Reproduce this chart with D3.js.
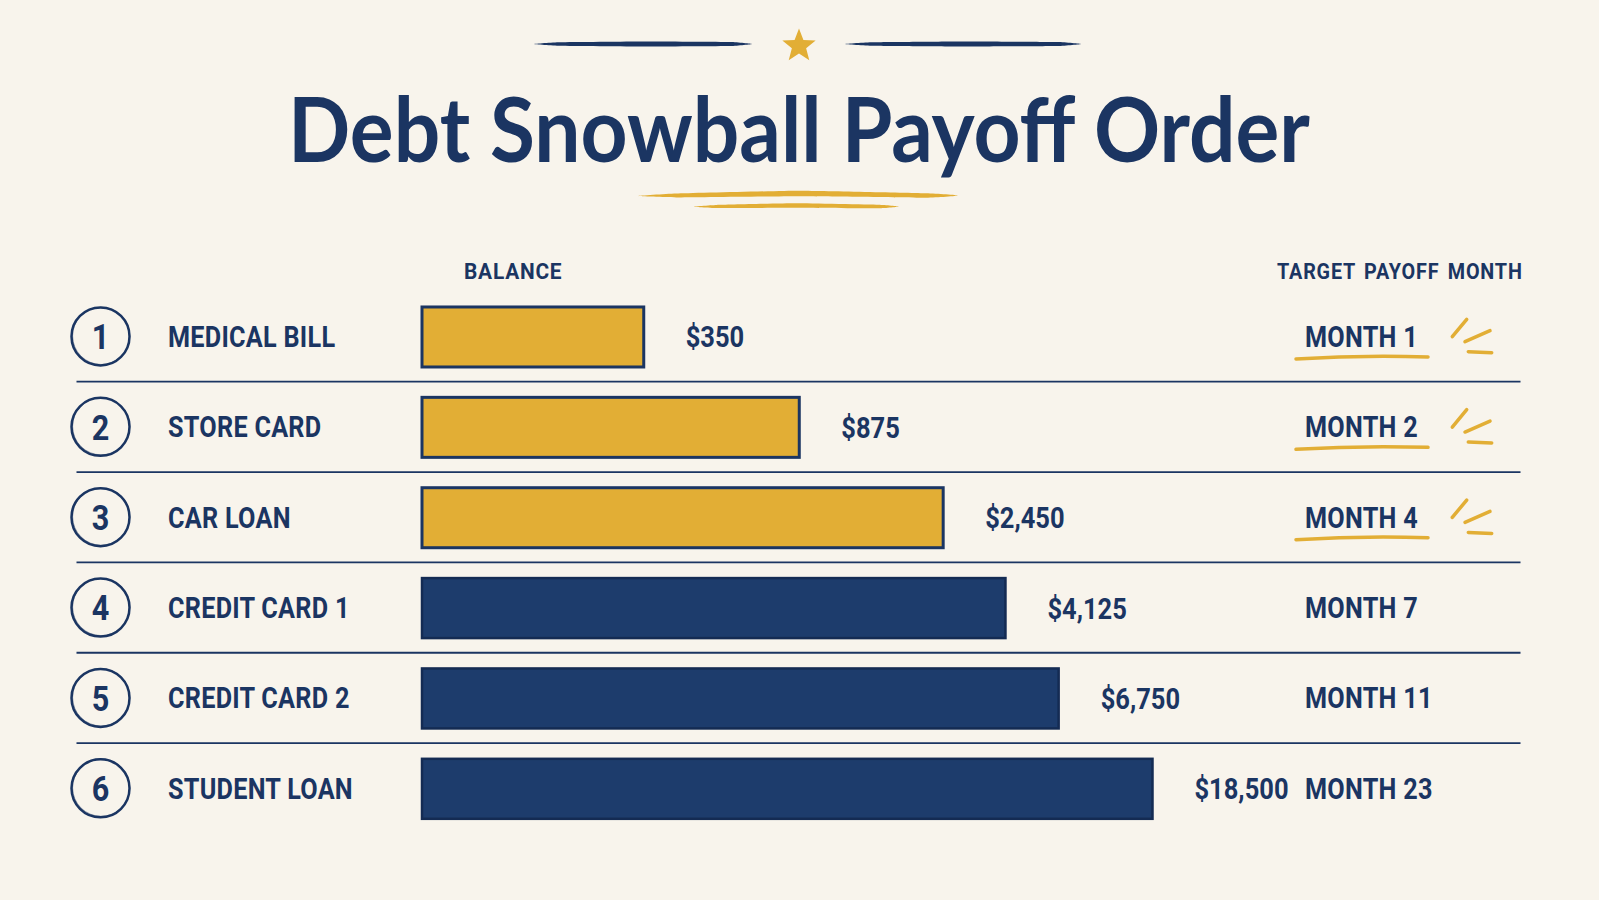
<!DOCTYPE html>
<html><head><meta charset="utf-8">
<script src="https://cdn.jsdelivr.net/npm/d3@7"></script>
<style>
html,body{margin:0;padding:0;background:#F8F4EC;}
svg{display:block;}
text{font-family:Roboto,"Noto Sans",sans-serif;font-weight:700;}
</style></head><body>
<svg id="chart" width="1599" height="900"></svg>
<script>
// ---- data ----
const ranks = [1, 2, 3, 4, 5, 6];
const debts = ["MEDICAL BILL", "STORE CARD", "CAR LOAN", "CREDIT CARD 1", "CREDIT CARD 2", "STUDENT LOAN"];
const balances = [350, 875, 2450, 4125, 6750, 18500];
const payoffMonths = [1, 2, 4, 7, 11, 23];
const focusRanks = [1, 2, 3];
const titleText = "Debt Snowball Payoff Order";
const headerBalance = "BALANCE";
const headerMonth = "TARGET PAYOFF MONTH";

// ---- style ----
const C = {bg:"#F8F4EC", navy:"#1B3562", navyFill:"#1D3C6C", navyEdge:"#142B53", gold:"#E2AE35"};
const svg = d3.select("#chart");
svg.append("rect").attr("width",1599).attr("height",900).attr("fill",C.bg);

const barX0 = 422;
const y = d3.scaleBand().domain(ranks).range([291.3, 833.5]).padding(0);
const x = d3.scalePow().exponent(-0.2).domain([120, 20000]).range([barX0, barX0 + 737]);
const fmt = d3.format("$,");

function ctext(parent, str, px, py, size, sx, opts={}) {
  const t = parent.append("text")
    .attr("transform", `translate(${px},${py}) scale(${sx},1)`)
    .attr("font-size", size)
    .attr("fill", opts.fill || C.navy)
    .attr("text-anchor", opts.anchor || "start")
    .text(str);
  if (opts.ls) t.attr("letter-spacing", opts.ls);
  if (opts.ws) t.attr("word-spacing", opts.ws);
  if (opts.weight) t.attr("font-weight", opts.weight);
  if (opts.family) t.style("font-family", opts.family);
  return t;
}
function brush(parent, x1, x2, yc, t, color, bend=0) {
  const L = x2 - x1;
  const pts = [[x1, yc+bend*0.3], [x1+L*0.12, yc - t*0.35], [x1+L*0.5, yc - t*0.5 - bend], [x2-L*0.1, yc - t*0.4], [x2, yc],
               [x2-L*0.1, yc + t*0.4], [x1+L*0.5, yc + t*0.5 - bend], [x1+L*0.12, yc + t*0.35]];
  parent.append("path").attr("d", d3.line().curve(d3.curveCardinalClosed.tension(0.6))(pts)).attr("fill", color);
}

// ---- top ornament ----
brush(svg, 534, 752, 44, 5, C.navy);
brush(svg, 845, 1081, 44, 5, C.navy);
const star = d3.range(10).map(i => {
  const a = -Math.PI/2 + i*Math.PI/5, r = i%2 ? 7.5 : 17.5;
  return [799 + r*Math.cos(a), 46 + r*Math.sin(a)];
});
svg.append("path").attr("d", d3.line()(star) + "Z").attr("fill", C.gold);

// ---- title (fitted to span 288..1310) ----
const title = ctext(svg, titleText, 799, 162, 89, 1, {anchor:"middle", weight:900, family:"Lato, Roboto, sans-serif"});
const tw = title.node().getComputedTextLength();
title.attr("transform", `translate(799,162) scale(${1022 / tw},1)`);
brush(svg, 638, 958, 195.5, 5.5, C.gold, 2);
brush(svg, 692, 899, 206.5, 4.5, C.gold, 1);

// ---- headers ----
ctext(svg, headerBalance, 464, 279, 22, 0.95, {ls:0.8});
ctext(svg, headerMonth, 1277, 279, 22, 0.9, {ls:0.9, ws:3});

// ---- dividers ----
svg.selectAll("line.div").data(ranks.slice(1)).join("line")
  .attr("x1", 76.5).attr("x2", 1520.5)
  .attr("y1", d => y(d)).attr("y2", d => y(d))
  .attr("stroke", C.navy).attr("stroke-width", 1.8);

// ---- rows ----
const rows = ranks.map((r, i) => ({rank:r, name:debts[i], balance:balances[i], month:payoffMonths[i], focus:focusRanks.includes(r)}));
const g = svg.selectAll("g.row").data(rows).join("g").attr("class","row")
  .attr("transform", d => `translate(0,${y(d.rank) + y.bandwidth()/2})`);

g.append("circle").attr("cx", 100.5).attr("cy", 0).attr("r", 29)
  .attr("fill","none").attr("stroke", C.navy).attr("stroke-width", 2.5);
g.append("circle").attr("cx", 101.2).attr("cy", -0.6).attr("r", 28.6)
  .attr("fill","none").attr("stroke", C.navy).attr("stroke-width", 1).attr("opacity",0.45);
g.each(function(d){
  const s = d3.select(this);
  ctext(s, String(d.rank), 100.5, 12.8, 36, 0.85, {anchor:"middle"});
  ctext(s, d.name, 168, 10.5, 29, 0.87, {ls:0.3});
  ctext(s, fmt(d.balance), x(d.balance) + 42, 11, 30, 0.85);
  ctext(s, "MONTH " + d.month, 1305, 10.5, 29, 0.87, {ls:0.3});
  if (d.focus) {
    s.append("path").attr("d", "M1296,22.5 Q1360,18.5 1428,20.5")
      .attr("fill","none").attr("stroke", C.gold).attr("stroke-width", 3.5).attr("stroke-linecap","round");
    [[1452.3,0.2,1466.7,-17.2],[1465,5.2,1490,-5.8],[1468.3,15.2,1491.7,16.2]].forEach(p => {
      s.append("line").attr("x1",p[0]).attr("y1",p[1]).attr("x2",p[2]).attr("y2",p[3])
        .attr("stroke", C.gold).attr("stroke-width", 3.5).attr("stroke-linecap","round");
    });
  }
});

g.append("rect")
  .attr("x", barX0).attr("y", -29.5)
  .attr("width", d => x(d.balance) - barX0).attr("height", 60)
  .attr("fill", d => d.focus ? C.gold : C.navyFill)
  .attr("stroke", d => d.focus ? C.navy : C.navyEdge)
  .attr("stroke-width", d => d.focus ? 3 : 2.5);
</script>
</body></html>
